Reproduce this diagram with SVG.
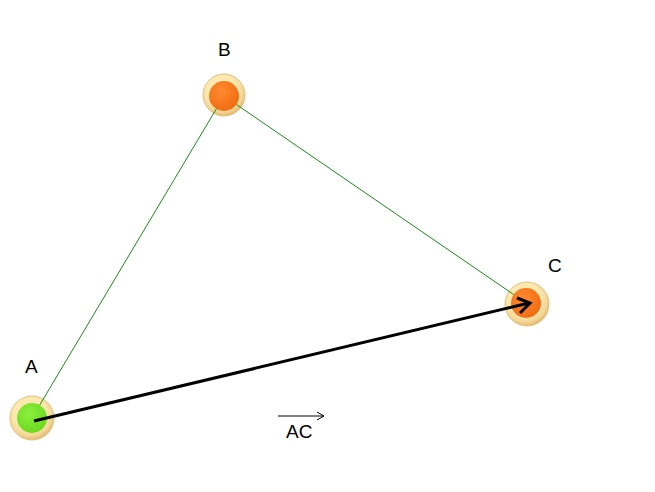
<svg xmlns="http://www.w3.org/2000/svg" width="655" height="492" viewBox="0 0 655 492">
<style>
text{font-family:"Liberation Sans",Arial,sans-serif;font-size:19px;fill:#000}
.edge{stroke:#1a8a1a;stroke-width:1;fill:none}
.ring{fill:url(#ringG);stroke:#e3c27e;stroke-width:1}
.orange{fill:url(#orG)}
.green{fill:url(#grG)}
</style>
<defs>
<radialGradient id="ringG" cx="0.45" cy="0.4" r="0.6">
<stop offset="0.6" stop-color="#fbe9b0"/>
<stop offset="0.85" stop-color="#f3d596"/>
<stop offset="1" stop-color="#e2b96f"/>
</radialGradient>
<radialGradient id="orG" cx="0.4" cy="0.35" r="0.7">
<stop offset="0" stop-color="#ff8a30"/>
<stop offset="1" stop-color="#f06a10"/>
</radialGradient>
<radialGradient id="grG" cx="0.4" cy="0.35" r="0.7">
<stop offset="0" stop-color="#8cf040"/>
<stop offset="1" stop-color="#6ad81c"/>
</radialGradient>
<marker id="vhead" markerWidth="10" markerHeight="10" refX="8" refY="5" orient="auto" markerUnits="userSpaceOnUse">
<path d="M1,1 L8,5 L1,9" fill="none" stroke="#000" stroke-width="1"/>
</marker>
</defs>
<g id="nodeA">
<circle class="ring" cx="32" cy="418" r="22"/>
<circle class="green" cx="32" cy="418" r="15"/>
<text x="25" y="373">A</text>
</g>
<g id="nodeB">
<circle class="ring" cx="224" cy="95" r="21"/>
<circle class="orange" cx="224" cy="96" r="15"/>
<text x="218" y="56">B</text>
</g>
<g id="nodeC">
<circle class="ring" cx="527" cy="304" r="22"/>
<circle class="orange" cx="526" cy="303" r="15"/>
<text x="548" y="272">C</text>
</g>
<g id="connectors">
<line class="edge" x1="216.3" y1="108.9" x2="39.7" y2="405.1"/>
<line class="edge" x1="236.4" y1="104.5" x2="513.6" y2="294.5"/>
<line id="AC" x1="34" y1="421" x2="527" y2="303.5" stroke="#000" stroke-width="3"/>
<path d="M517,298 L530,303 L520,313" fill="none" stroke="#000" stroke-width="3" stroke-linejoin="miter"/>
</g>
<g id="label">
<line x1="278" y1="416" x2="324" y2="416" stroke="#000" stroke-width="1" marker-end="url(#vhead)"/>
<text x="286" y="438">AC</text>
</g>
</svg>
